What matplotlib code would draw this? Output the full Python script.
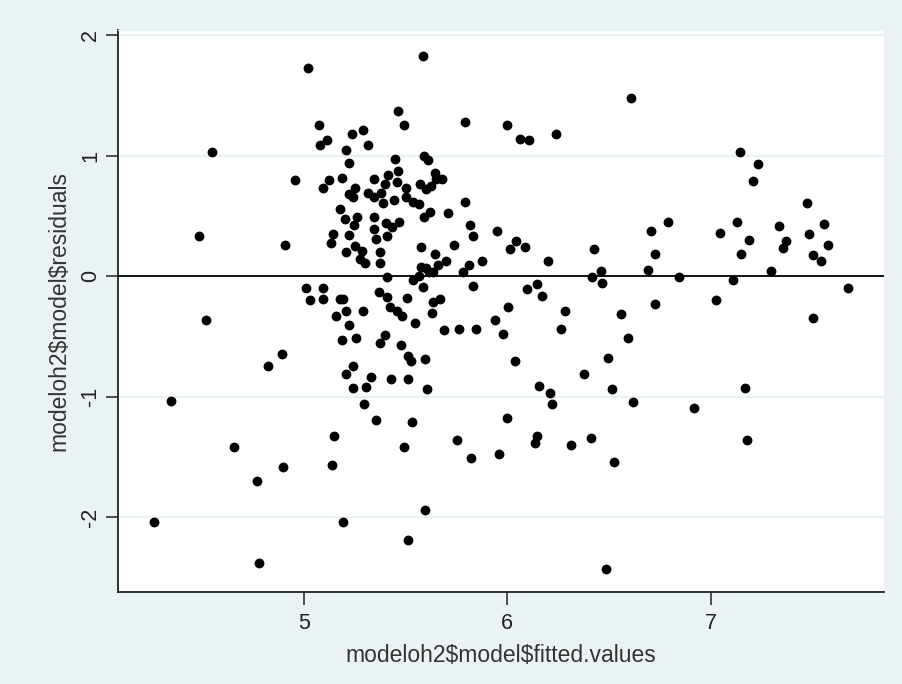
import matplotlib
matplotlib.use('Agg')
import matplotlib.pyplot as plt

plt.rcParams['font.family'] = ['Liberation Sans', 'DejaVu Sans']

# fitted values vs residuals
fitted = [
    4.266, 4.348, 4.487, 4.518, 4.547, 4.657, 4.771, 4.779, 4.824, 4.892,
    4.898, 4.907, 4.955, 5.020, 5.011, 5.031, 5.076, 5.079, 5.096, 5.093,
    5.096, 5.116, 5.122, 5.133, 5.142, 5.139, 5.147, 5.159, 5.178, 5.187,
    5.178, 5.187, 5.195, 5.195, 5.207, 5.207, 5.207, 5.207, 5.201, 5.221,
    5.224, 5.221, 5.235, 5.224, 5.241, 5.241, 5.244, 5.246, 5.252, 5.252,
    5.258, 5.263, 5.275, 5.286, 5.289, 5.292, 5.303, 5.306, 5.297, 5.314,
    5.317, 5.329, 5.343, 5.343, 5.346, 5.346, 5.354, 5.357, 5.374, 5.377,
    5.377, 5.371, 5.382, 5.391, 5.399, 5.399, 5.405, 5.411, 5.411, 5.414,
    5.411, 5.422, 5.428, 5.433, 5.445, 5.448, 5.459, 5.456, 5.462, 5.465,
    5.467, 5.479, 5.484, 5.493, 5.493, 5.501, 5.504, 5.507, 5.510, 5.513,
    5.513, 5.527, 5.530, 5.535, 5.535, 5.547, 5.567, 5.564, 5.572, 5.575,
    5.578, 5.584, 5.586, 5.589, 5.592, 5.595, 5.598, 5.601, 5.603, 5.606,
    5.609, 5.615, 5.620, 5.626, 5.632, 5.635, 5.637, 5.643, 5.646, 5.652,
    5.660, 5.671, 5.677, 5.688, 5.697, 5.708, 5.737, 5.754, 5.765, 5.782,
    5.790, 5.793, 5.810, 5.819, 5.822, 5.830, 5.830, 5.847, 5.878, 5.940,
    5.949, 5.960, 5.977, 5.997, 6.000, 6.006, 6.014, 6.037, 6.045, 6.065,
    6.088, 6.096, 6.108, 6.136, 6.144, 6.147, 6.156, 6.173, 6.201, 6.212,
    6.221, 6.238, 6.266, 6.286, 6.312, 6.377, 6.414, 6.416, 6.425, 6.462,
    6.465, 6.487, 6.496, 6.516, 6.527, 6.561, 6.592, 6.609, 6.618, 6.694,
    6.705, 6.728, 6.728, 6.788, 6.844, 6.918, 7.028, 7.045, 7.110, 7.127,
    7.142, 7.150, 7.170, 7.178, 7.187, 7.207, 7.232, 7.297, 7.334, 7.354,
    7.371, 7.473, 7.482, 7.501, 7.504, 7.541, 7.558, 7.578, 7.677,
]
residuals = [
    -2.04, -1.03, 0.333, -0.362, 1.033, -1.413, -1.70, -2.38, -0.746, -0.641,
    -1.58, 0.261, 0.797, 1.728, -0.094, -0.199, 1.254, 1.091, 0.736, -0.094,
    -0.185, 1.134, 0.80, 0.279, 0.351, -1.565, -1.326, -0.33, 0.558, 0.812,
    -0.185, -0.525, -0.185, -2.04, 1.051, -0.29, 0.199, -0.808, 0.478, 0.942,
    0.344, -0.406, 1.181, 0.685, 0.659, -0.924, -0.746, 0.428, 0.732, 0.25,
    -0.511, 0.489, 0.145, 0.214, -0.29, 1.21, 0.112, -0.917, -1.058, 0.692,
    1.091, -0.833, 0.808, 0.489, 0.391, 0.656, 0.312, -1.192, -0.554, 0.199,
    0.109, -0.134, 0.692, 0.612, -0.486, 0.768, 0.442, -0.004, 0.333, 0.844,
    -0.174, -0.257, -0.848, 0.413, 0.63, 0.975, 0.786, -0.29, 1.373, 0.873,
    0.453, -0.569, -0.33, 1.254, -1.413, 0.736, 0.659, -0.178, -0.663, -0.848,
    -2.185, -0.699, -1.207, -0.029, 0.62, -0.391, 0.598, 0.0, 0.764, 0.243,
    0.08, -0.091, 1.83, 0.489, 0.996, -0.688, -1.935, 0.721, 0.072, -0.938,
    0.964, 0.033, 0.536, 0.75, -0.301, -0.217, 0.033, 0.188, 0.859, 0.804,
    0.094, -0.185, 0.804, -0.449, 0.13, 0.525, 0.261, -1.359, -0.435, 0.036,
    0.616, 1.283, 0.094, 0.424, -1.504, 0.333, -0.083, -0.435, 0.127, -0.362,
    0.38, -1.475, -0.482, 1.254, -1.178, -0.257, 0.228, -0.703, 0.293, 1.141,
    0.246, -0.105, 1.134, -1.384, -1.322, -0.062, -0.906, -0.167, 0.127, -0.967,
    -1.062, 1.181, -0.435, -0.286, -1.399, -0.808, -1.341, -0.004, 0.228, 0.043,
    -0.054, -2.428, -0.674, -0.935, -1.536, -0.315, -0.511, 1.475, -1.043, 0.051,
    0.38, 0.188, -0.228, 0.453, -0.004, -1.091, -0.199, 0.362, -0.033, 0.453,
    1.033, 0.188, -0.924, -1.355, 0.304, 0.793, 0.928, 0.04, 0.42, 0.232,
    0.293, 0.612, 0.348, -0.348, 0.178, 0.127, 0.438, 0.261, -0.094,
]

x_ticks = [5, 6, 7]
y_ticks = [-2, -1, 0, 1, 2]

bg = '#eaf2f3'
fig = plt.figure(figsize=(9.03, 6.84), dpi=100, facecolor=bg)
ax = fig.add_axes([0.1307, 0.1345, 0.8483, 0.8215])
ax.set_facecolor('white')

for yt in y_ticks:
    ax.axhline(yt, color=bg, linewidth=1.6, zorder=0)
ax.axhline(0, color='black', linewidth=1.3, zorder=1)

ax.scatter(fitted, residuals, s=50, color='black', linewidths=0, zorder=3)

ax.set_xlim(4.087, 7.852)
ax.set_ylim(-2.618, 2.042)
ax.set_xticks(x_ticks)
ax.set_yticks(y_ticks)
ax.set_yticklabels([str(v) for v in y_ticks], rotation=90, va='center')
ax.tick_params(direction='out', length=9, width=1.1, labelsize=15.5,
               colors='#222222')
ax.tick_params(axis='x', pad=6)
ax.tick_params(axis='y', pad=3)

for side in ['top', 'right']:
    ax.spines[side].set_color(bg)
for side in ['left', 'bottom']:
    ax.spines[side].set_color('#222222')
    ax.spines[side].set_linewidth(1.3)

ax.set_xlabel(r'modeloh2\$model\$fitted.values', fontsize=16.5,
              color='#333333', labelpad=7)
ax.set_ylabel(r'modeloh2\$model\$residuals', fontsize=16.5,
              color='#333333', labelpad=7)

fig.savefig('out.png', dpi=100, facecolor=bg)
